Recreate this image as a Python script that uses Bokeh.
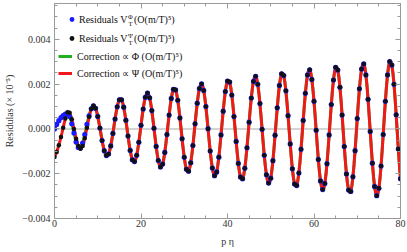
from bokeh.plotting import figure
from bokeh.models import Range1d, Legend, LegendItem, Label, Span, FixedTicker, LinearAxis, CustomJSTickFormatter
from bokeh.embed import file_html
from bokeh.resources import INLINE

# ---- data (in units of 1e-5) ----
eta_step = 0.25          # line samples every 0.25 in p*eta; residual points every 0.5
psi_early_e5 = [-125, -115, -103, -89, -73, -55, -36, -16, 5, 26, 46, 63, 74, 77, 72, 60, 43, 22, 0, -22,
                -44, -62, -76, -85, -88, -85, -76, -61, -42, -19, 5, 29]
phi_early_e5 = [0, 10, 20, 29, 37, 44, 50, 55, 59, 63, 66, 68, 68, 64, 55, 41, 23, 3, -18, -39,
                -58, -73, -83, -87, -85, -77, -63, -45, -25, -3, 20, 40, 58, 76, 90, 100]
psi_mid_e5 = [54, 74, 89, 99]
common_e5 = [103, 101, 92, 77, 56, 31, 4, -24, -52, -76, -97, -111, -119, -119, -112, -97, -76, -50, -20, 12,
             44, 73, 99, 118, 130, 135, 130, 118, 97, 70, 39, 4, -32, -66, -96, -121,
             -138, -147, -146, -137, -118, -92, -60, -23, 16, 54, 89, 119, 141, 155, 160, 154, 139, 114, 82, 44,
             3, -38, -78, -113, -141, -161, -170, -169, -157, -136, -105, -67,
             -25, 19, 62, 102, 136, 162, 177, 182, 174, 156, 128, 92, 49, 3, -44, -88, -127, -159, -180, -191,
             -189, -175, -151, -116, -74, -27, 23, 71, 115, 152, 180, 197, 201, 193, 172, 140, 100, 52, 1, -50,
             -99, -141, -175, -199, -209, -207, -192, -164,
             -126, -79, -27, 26, 79, 127, 167, 197, 214, 218, 209, 186, 151, 107, 55, 0, -56, -108, -154, -191,
             -215, -226, -223, -206, -176, -134, -84, -28, 30, 87, 138, 181, 212, 231, 235, 224, 199, 161, 113, 57,
             -2, -62, -118, -167, -205, -231, -242, -239, -220, -187, -142, -88, -28, 34, 94, 149, 194, 227, 246, 250,
             238, 210, 170, 118, 59, -4, -67, -127, -178, -219, -246, -257, -253, -232, -197, -149, -91, -28, 38, 101,
             159, 206, 241, 261, 264, 251, 221, 178, 123, 60, -6, -73, -136, -190, -232, -260, -271, -266, -244, -206,
             -155, -94, -27, 42, 109, 169, 218, 254, 275, 277, 263, 232, 186, 128, 62, -9, -79, -144, -201, -245,
             -273, -285, -279, -255, -214, -161, -97, -26, 46, 116, 179, 230, 267, 288, 290, 274, 241, 193, 132, 62,
             -11, -85, -153, -211, -257, -286, -298, -290, -265, -223, -166, -99, -25, 50, 123, 188, 241, 280, 301, 302,
             285, 250, 199, 135, 63, -14, -90, -161, -222]
x_ticks = [0, 20, 40, 60, 80]
y_ticks = [-0.004, -0.002, 0, 0.002, 0.004]
y_tick_labels = ["−0.004", "−0.002", "0.000", "0.002", "0.004"]

psi_line = [v * 1e-5 for v in psi_early_e5 + psi_mid_e5 + common_e5]
phi_line = [v * 1e-5 for v in phi_early_e5 + common_e5]
eta_line = [i * eta_step for i in range(len(psi_line))]
eta_dot, phi_dot, psi_dot = eta_line[::2], phi_line[::2], psi_line[::2]

SERIF = "Liberation Serif"
GRAY = "#9a9a9a"
TXT = "#333333"
W, H_CANVAS = 407, 252
B_LEFT, B_RIGHT, B_TOP, B_BOTTOM = 54, 7, 3, 34
p = figure(width=W, height=H_CANVAS, output_backend="svg", toolbar_location=None,
           x_range=Range1d(0, 80), y_range=Range1d(-0.004, 0.0056),
           min_border_left=B_LEFT, min_border_right=B_RIGHT, min_border_top=B_TOP, min_border_bottom=B_BOTTOM)
p.xgrid.visible = False
p.ygrid.visible = False
p.outline_line_color = GRAY

p.add_layout(Span(location=0, dimension="width", line_color="#d4d4d4", line_width=2, level="underlay"))

g = p.line(eta_line, phi_line, line_color="#22b022", line_width=3)
r = p.line(eta_line, psi_line, line_color="#f01818", line_width=3)
b = p.scatter(eta_dot, phi_dot, size=5.2, fill_color="#1a1aff", line_color=None)
k = p.scatter(eta_dot, psi_dot, size=4.5, fill_color="#111111", line_color=None)


def style_axis(ax):
    ax.axis_line_color = GRAY
    ax.major_tick_line_color = GRAY
    ax.minor_tick_line_color = GRAY
    ax.major_tick_in = 5
    ax.major_tick_out = 0
    ax.minor_tick_in = 3
    ax.minor_tick_out = 0
    ax.major_label_text_font = SERIF
    ax.major_label_text_font_size = "10px"
    ax.major_label_text_color = TXT
    ax.axis_label_text_font = SERIF
    ax.axis_label_text_font_size = "10px"
    ax.axis_label_text_font_style = "normal"
    ax.axis_label_text_color = TXT


xt = FixedTicker(ticks=x_ticks, minor_ticks=list(range(0, 81, 5)))
yt = FixedTicker(ticks=y_ticks, minor_ticks=[i * 0.0005 for i in range(-8, 12)])
p.xaxis.ticker = xt
p.yaxis.ticker = yt
p.xaxis.axis_label = "p η"
p.yaxis.axis_label = "Residulas (× 10⁻⁵)"
style_axis(p.xaxis[0])
style_axis(p.yaxis[0])
p.xaxis.major_label_standoff = 1
p.xaxis.axis_label_standoff = 6
p.yaxis.major_label_standoff = 4
p.yaxis.axis_label_standoff = 4
p.yaxis.major_label_overrides = dict(zip(y_ticks, y_tick_labels))

for side, tk in (("above", xt), ("right", yt)):
    ax = LinearAxis(ticker=tk, formatter=CustomJSTickFormatter(code="return ''"))
    style_axis(ax)
    ax.major_label_text_font_size = "0px"
    ax.major_label_standoff = 0
    p.add_layout(ax, side)

legA = Legend(items=[LegendItem(label="Residuals V", renderers=[b]), LegendItem(label="Residuals V", renderers=[k])],
              location="top_left", margin=10, padding=0, glyph_width=15, glyph_height=12, label_height=12,
              label_width=10, label_standoff=0, spacing=7, border_line_color=None, background_fill_alpha=0,
              label_text_font=SERIF, label_text_font_size="10px", label_text_color="#111111")
FRAME_H = H_CANVAS - B_TOP - B_BOTTOM
legB = Legend(items=[LegendItem(label="Correction ∝ Φ (O(m/T)⁵)", renderers=[g]),
                     LegendItem(label="Correction ∝ Ψ (O(m/T)⁵)", renderers=[r])],
              location=(4, FRAME_H - 76), margin=0, padding=0, glyph_width=14, glyph_height=12, label_height=12,
              label_width=10, label_standoff=5, spacing=5, border_line_color=None, background_fill_alpha=0,
              label_text_font=SERIF, label_text_font_size="10px", label_text_color="#111111")
p.add_layout(legA)
p.add_layout(legB)

for row_y, sup in ((FRAME_H - 16, "Φ"), (FRAME_H - 35, "Ψ")):
    p.add_layout(Label(x=73.5, y=row_y + 3.5, x_units="screen", y_units="screen", text=sup,
                       text_font=SERIF, text_font_size="6.5px", text_color="#111111", text_baseline="middle"))
    p.add_layout(Label(x=74, y=row_y - 3.5, x_units="screen", y_units="screen", text="T",
                       text_font=SERIF, text_font_size="6.5px", text_color="#111111", text_baseline="middle"))
    p.add_layout(Label(x=79.5, y=row_y, x_units="screen", y_units="screen", text="(O(m/T)⁵)",
                       text_font=SERIF, text_font_size="10px", text_color="#111111", text_baseline="middle"))

open("out.html", "w").write(file_html(p, INLINE))
